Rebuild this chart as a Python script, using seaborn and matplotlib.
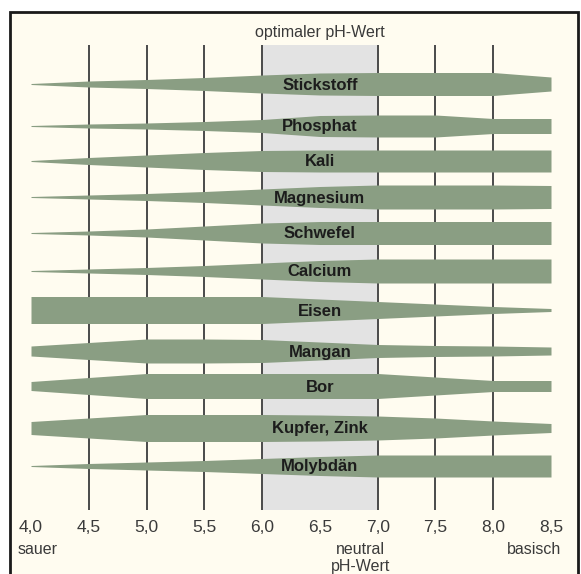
"""
Nährstoffverfügbarkeit in Abhängigkeit vom pH-Wert des Bodens.
"""
import matplotlib
matplotlib.use("Agg")
import matplotlib.pyplot as plt
import seaborn as sns
from matplotlib.patches import Rectangle

# pH-Stützstellen und Breite der Bänder (Verfügbarkeit, in Bildpunkten)
ph = [4.0, 4.5, 5.0, 5.5, 6.0, 6.5, 7.0, 7.5, 8.0, 8.5]
naehrstoffe = ["Stickstoff", "Phosphat", "Kali", "Magnesium", "Schwefel",
               "Calcium", "Eisen", "Mangan", "Bor", "Kupfer, Zink", "Molybdän"]
stickstoff = [1, 6, 9, 13, 18, 22, 23, 23, 23, 14]
phosphat = [1, 4, 6, 9, 13, 21, 22, 22, 15, 15]
kali = [1, 7, 12, 17, 21, 22, 22, 22, 22, 22]
magnesium = [1, 4, 7, 11, 16, 21, 24, 24, 24, 23]
schwefel = [1, 4, 8, 14, 20, 23, 23, 23, 23, 23]
calcium = [1, 4, 7, 11, 16, 21, 24, 24, 24, 24]
eisen = [27, 27, 27, 27, 27, 22, 17, 12, 7, 3]
mangan = [10, 17, 24, 24, 23, 18, 13, 11, 10, 8]
bor = [9, 17, 25, 25, 25, 25, 25, 18, 11, 11]
kupfer_zink = [13, 20, 27, 27, 27, 26, 24, 20, 14, 9]
molybdaen = [1, 5, 8, 11, 15, 19, 22, 22, 22, 22]
breiten = [stickstoff, phosphat, kali, magnesium, schwefel, calcium,
           eisen, mangan, bor, kupfer_zink, molybdaen]

gitter_ph = [4.5, 5.0, 5.5, 6.0, 7.0, 7.5, 8.0]
tick_ph = [4.0, 4.5, 5.0, 5.5, 6.0, 6.5, 7.0, 7.5, 8.0, 8.5]
tick_labels = ["4,0", "4,5", "5,0", "5,5", "6,0", "6,5", "7,0", "7,5", "8,0", "8,5"]
optimum = (6.0, 7.0)

# Layout: Mittellinien der Bänder (Bildpunkte von oben)
ZEILEN_Y = [84, 126, 161, 197, 233, 271, 310, 351, 386, 428, 466]

GREEN = "#8a9e83"
CREAM = "#fffcf0"
GREY = "#e3e3e3"
TEXT = "#1c1c1c"
LABEL = "#3a3a3a"

sns.set_theme(style="white")
plt.rcParams["font.family"] = ["Liberation Sans", "DejaVu Sans"]

W, H = 581, 574
fig = plt.figure(figsize=(W / 100, H / 100), dpi=100, facecolor="white")

# Rahmen mit cremefarbenem Hintergrund
frame = Rectangle((10 / W, -0.01), 568 / W, (H - 12) / H + 0.01,
                  transform=fig.transFigure, facecolor=CREAM,
                  edgecolor="#1a1a1a", linewidth=2, zorder=-5)
fig.patches.append(frame)

# Achse: x = pH (Pixel 31..551), y = Bildpunkte von oben
ax = fig.add_axes([31 / W, 0, 520 / W, 1])
ax.set_zorder(2)
ax.set_xlim(4.0, 8.5)
ax.set_ylim(H, 0)
ax.patch.set_alpha(0)
ax.axis("off")

y_top, y_bot = 45, 510

ax.add_patch(Rectangle((optimum[0], y_top), optimum[1] - optimum[0],
                       y_bot - y_top, facecolor=GREY, edgecolor="none",
                       zorder=1))
ax.vlines(gitter_ph, y_top, y_bot, color="#4a4a4a", linewidth=1.4, zorder=2)

for yc, name, w in zip(ZEILEN_Y, naehrstoffe, breiten):
    ax.fill_between(ph, [yc - v / 2 for v in w], [yc + v / 2 for v in w],
                    color=GREEN, linewidth=0, zorder=3)
    ax.text(6.5, yc + 1, name, ha="center", va="center", fontsize=12,
            fontweight="bold", color=TEXT, zorder=4)

for x, lab in zip(tick_ph, tick_labels):
    ax.text(x, 527, lab, ha="center", va="center", fontsize=12.5,
            color=LABEL, clip_on=False)

ax.text(3.88, 550, "sauer", ha="left", va="center", fontsize=11.5,
        color=LABEL, clip_on=False)
ax.text(6.85, 550, "neutral", ha="center", va="center", fontsize=11.5,
        color=LABEL, clip_on=False)
ax.text(6.85, 566, "pH-Wert", ha="center", va="center", fontsize=11.5,
        color=LABEL, clip_on=False)
ax.text(8.35, 550, "basisch", ha="center", va="center", fontsize=11.5,
        color=LABEL, clip_on=False)
ax.text(6.5, 33, "optimaler pH-Wert", ha="center", va="center",
        fontsize=11.5, color=LABEL, clip_on=False)

fig.savefig("out.png", dpi=100, facecolor="white")
plt.close(fig)
